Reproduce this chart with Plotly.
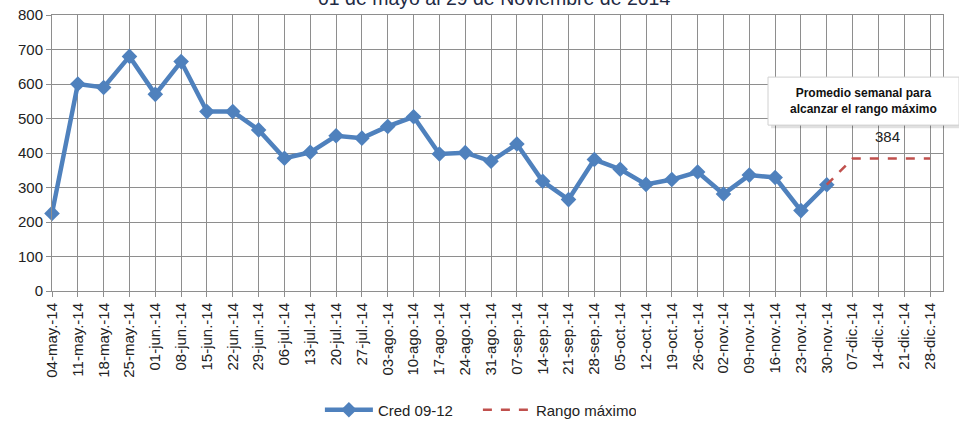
import plotly.graph_objects as go

categories = [
    "04-may.-14", "11-may.-14", "18-may.-14", "25-may.-14",
    "01-jun.-14", "08-jun.-14", "15-jun.-14", "22-jun.-14", "29-jun.-14",
    "06-jul.-14", "13-jul.-14", "20-jul.-14", "27-jul.-14",
    "03-ago.-14", "10-ago.-14", "17-ago.-14", "24-ago.-14", "31-ago.-14",
    "07-sep.-14", "14-sep.-14", "21-sep.-14", "28-sep.-14",
    "05-oct.-14", "12-oct.-14", "19-oct.-14", "26-oct.-14",
    "02-nov.-14", "09-nov.-14", "16-nov.-14", "23-nov.-14", "30-nov.-14",
    "07-dic.-14", "14-dic.-14", "21-dic.-14", "28-dic.-14",
]

cred_values = [
    225, 600, 590, 680,
    570, 665, 520, 520, 467,
    385, 402, 450, 443,
    477, 505, 397, 401, 376,
    426, 318, 265, 381,
    353, 309, 323, 345,
    281, 336, 329, 233, 308,
]

rango_values = [None] * 30 + [308, 384, 384, 384, 384]

rango_label = 384
title_text = "01 de mayo al 29 de Noviembre de 2014"
box_text = "<b>Promedio semanal para<br>alcanzar el rango máximo</b>"

BLUE = "#4F81BD"
RED = "#C0504D"
GRID = "#8E8E8E"
FONT = "Liberation Sans"

fig = go.Figure()
fig.add_trace(go.Scatter(
    x=categories[:len(cred_values)], y=cred_values, name="Cred 09-12",
    mode="lines+markers",
    line=dict(color=BLUE, width=4.5),
    marker=dict(symbol="diamond", size=12, color=BLUE),
    cliponaxis=False,
))
fig.add_trace(go.Scatter(
    x=categories, y=rango_values, name="Rango máximo",
    mode="lines",
    line=dict(color=RED, width=2.5, dash="dash"),
    connectgaps=False,
))

# annotation box with shadow
fig.add_shape(type="rect", xref="paper", yref="paper",
              x0=0.807, x1=1.022, y0=0.590, y1=0.764,
              fillcolor="rgba(0,0,0,0.12)", line=dict(width=0), layer="above")
fig.add_shape(type="rect", xref="paper", yref="paper",
              x0=0.8036, x1=1.018, y0=0.601, y1=0.775,
              fillcolor="white", line=dict(color="#D0D0D0", width=1), layer="above")
fig.add_annotation(xref="paper", yref="paper", x=0.911, y=0.688,
                   text=box_text, showarrow=False,
                   font=dict(family=FONT, size=12, color="#111111"),
                   xanchor="center", yanchor="middle")
fig.add_annotation(x=32.35, y=rango_label, text=str(rango_label), showarrow=False,
                   yshift=22, font=dict(family=FONT, size=15, color="#222222"))

fig.add_annotation(xref="paper", yref="paper", x=0.496, y=1, yanchor="bottom",
                   yshift=4, text=title_text, showarrow=False,
                   font=dict(family=FONT, size=19.5, color="#1F2B45"))

fig.update_layout(
    width=959, height=424,
    margin=dict(l=52, r=16, t=15, b=133, autoexpand=False),
    paper_bgcolor="white", plot_bgcolor="white",
    font=dict(family=FONT, size=15, color="#222222"),
    showlegend=True,
    legend=dict(orientation="h", x=0.478, y=-0.431, xanchor="center", yanchor="middle",
                font=dict(family=FONT, size=15, color="#222222"), itemwidth=48,
                entrywidth=95, tracegroupgap=0),
)
fig.update_xaxes(
    type="category", categoryorder="array", categoryarray=categories,
    range=[0, 34.5], tickangle=-90, automargin=False,
    showgrid=True, gridcolor=GRID, gridwidth=1,
    showline=True, linecolor=GRID, linewidth=1, mirror=True,
    ticks="outside", ticklen=5, tickcolor=GRID,
    tickfont=dict(family=FONT, size=15, color="#222222"),
)
fig.update_yaxes(
    range=[0, 800], dtick=100, automargin=False,
    showgrid=True, gridcolor=GRID, gridwidth=1,
    showline=True, linecolor=GRID, linewidth=1, mirror=True,
    ticks="outside", ticklen=5, tickcolor=GRID,
    tickfont=dict(family=FONT, size=15, color="#222222"),
    zeroline=False,
)

fig.write_html("out.html", config={"displayModeBar": False},
               post_script="document.body.style.margin='0px';")
